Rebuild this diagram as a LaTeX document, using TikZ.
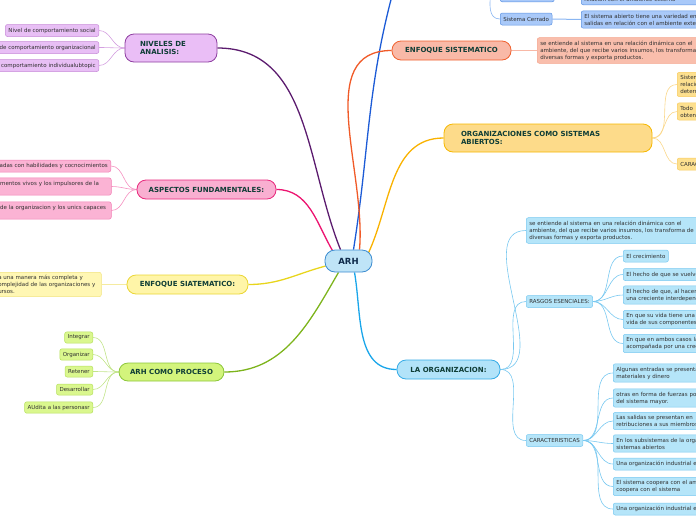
\documentclass[tikz,border=0pt]{standalone}
\usepackage{fontspec}
\setmainfont{DejaVu Sans}
\usetikzlibrary{backgrounds,calc}
\definecolor{arhfill}{HTML}{BFE4F7}\definecolor{arhdraw}{HTML}{3C8CD0}\definecolor{arhtxt}{HTML}{0E2A4A}
\definecolor{maintxt}{HTML}{0F3D36}\definecolor{subtxt}{HTML}{303030}
\definecolor{purline}{HTML}{5B1B6E}\definecolor{purfill}{HTML}{EABEF6}\definecolor{purdraw}{HTML}{8E3FA0}
\definecolor{purcfill}{HTML}{E8BFF5}\definecolor{purcdraw}{HTML}{C78AD8}\definecolor{purconn}{HTML}{D4A0E0}
\definecolor{pinkline}{HTML}{EC1470}\definecolor{pinkfill}{HTML}{F9AFD1}\definecolor{pinkdraw}{HTML}{E8287C}
\definecolor{pinkcfill}{HTML}{FBB3D4}\definecolor{pinkcdraw}{HTML}{F27EB4}\definecolor{pinkconn}{HTML}{F590C0}
\definecolor{yelline}{HTML}{E8D51C}\definecolor{yelfill}{HTML}{FFF5A8}\definecolor{yeldraw}{HTML}{EAD634}
\definecolor{yelcfill}{HTML}{FFF7B4}\definecolor{yelcdraw}{HTML}{F2E47E}\definecolor{yelconn}{HTML}{F5EBA0}
\definecolor{grnline}{HTML}{7DB41C}\definecolor{grnfill}{HTML}{D3F47C}\definecolor{grndraw}{HTML}{8CC63A}
\definecolor{grncfill}{HTML}{DAF78E}\definecolor{grncdraw}{HTML}{B5DF5E}\definecolor{grnconn}{HTML}{C2E48A}
\definecolor{bluline}{HTML}{1C5BD6}\definecolor{blucfill}{HTML}{A9C9F9}\definecolor{blucdraw}{HTML}{5C92E2}\definecolor{bluconn}{HTML}{8AB6F2}
\definecolor{redline}{HTML}{F05A28}\definecolor{redfill}{HTML}{F9B9A7}\definecolor{reddraw}{HTML}{F0602E}
\definecolor{redcfill}{HTML}{F9BEAC}\definecolor{redcdraw}{HTML}{F5A48C}\definecolor{redconn}{HTML}{F8B8A6}
\definecolor{orgline}{HTML}{F9B200}\definecolor{orgfill}{HTML}{FDDB8A}\definecolor{orgdraw}{HTML}{F6B700}
\definecolor{orgcfill}{HTML}{FDE08F}\definecolor{orgcdraw}{HTML}{F8CB5E}\definecolor{orgconn}{HTML}{FAD78A}
\definecolor{skyline}{HTML}{1AA6EA}\definecolor{skyfill}{HTML}{B2E3F9}\definecolor{skydraw}{HTML}{35ABE6}
\definecolor{skycfill}{HTML}{B5E5F9}\definecolor{skycdraw}{HTML}{78C8F0}\definecolor{skyconn}{HTML}{78C8F0}
\begin{document}
\begin{tikzpicture}[x=1pt,y=-1pt,
  mainbox/.style={draw, rounded corners=9pt, line width=0.8pt, font=\fontsize{7}{8.5}\selectfont\bfseries, text=maintxt, inner sep=0pt, align=left},
  sub/.style={draw, rounded corners=2pt, line width=0.5pt, font=\fontsize{5.5}{7}\selectfont, text=subtxt, inner xsep=3pt, inner ysep=3pt, minimum height=12pt},
  purc/.style={sub, fill=purcfill, draw=purcdraw},
  pinkc/.style={sub, fill=pinkcfill, draw=pinkcdraw},
  yelc/.style={sub, fill=yelcfill, draw=yelcdraw},
  grnc/.style={sub, fill=grncfill, draw=grncdraw, minimum height=11pt},
  bluc/.style={sub, fill=blucfill, draw=blucdraw},
  redc/.style={sub, fill=redcfill, draw=redcdraw},
  orgc/.style={sub, fill=orgcfill, draw=orgcdraw},
  skyc/.style={sub, fill=skycfill, draw=skycdraw},
  conn/.style={line width=1.3pt},
  subconn/.style={line width=0.6pt},
]
\useasboundingbox (0,0) rectangle (696,520);

% central
\node[mainbox, fill=arhfill, draw=arhdraw, minimum width=47pt, minimum height=22pt, rounded corners=10pt, font=\fontsize{8.5}{9}\selectfont\bfseries, text=arhtxt, align=center] (arh) at (348.5,261) {ARH};

% main nodes
\node[mainbox, fill=purfill, draw=purdraw, minimum width=92pt, minimum height=28pt, text width=62pt] (niv) at (171,48) {NIVELES DE\\ANALISIS:};
\node[mainbox, fill=pinkfill, draw=pinkdraw, minimum width=139pt, minimum height=19pt, align=center] (asp) at (206.5,189.5) {ASPECTOS FUNDAMENTALES:};
\node[mainbox, fill=yelfill, draw=yeldraw, minimum width=121pt, minimum height=19pt, align=center] (siat) at (187.5,284.5) {ENFOQUE SIATEMATICO:};
\node[mainbox, fill=grnfill, draw=grndraw, minimum width=105pt, minimum height=18pt, align=center] (proc) at (171.5,372) {ARH COMO PROCESO};
\node[mainbox, fill=redfill, draw=reddraw, minimum width=119pt, minimum height=19pt, align=center] (ens) at (451.5,50.5) {ENFOQUE SISTEMATICO};
\node[mainbox, fill=orgfill, draw=orgdraw, minimum width=208pt, minimum height=28pt, text width=174pt] (org) at (548,138) {ORGANIZACIONES COMO SISTEMAS\\ABIERTOS:};
\node[mainbox, fill=skyfill, draw=skydraw, minimum width=103pt, minimum height=19pt, align=center] (laorg) at (448.5,369.5) {LA ORGANIZACION:};
\coordinate (topoff) at (393,-8);
\coordinate (sisp) at (482,-40);

% purple children
\node[purc, anchor=east] (n1) at (99,30.5) {Nivel de comportamiento social};
\node[purc, anchor=east, text width=130pt, align=right] (n2) at (99,47.5) {de comportamiento organizacional};
\node[purc, anchor=east, text width=130pt, align=right] (n3) at (99,65.5) {comportamiento individualubtopic};

% pink children
\node[pinkc, anchor=east, text width=150pt, align=right] (a1) at (111,166) {tadas con habilidades y cocnocimientos};
\node[pinkc, anchor=west, text width=108pt, align=left] (a2) at (-3,186.5) {mentos vivos y los impulsores de la\\\mbox{}};
\node[pinkc, anchor=west, text width=108pt, align=left] (a3) at (-3,210.5) {de la organizacion y los unics capaces\\\mbox{}};

% yellow child
\node[yelc, anchor=west, text width=100pt, align=left] (e1) at (-5,284.5) {a una manera más completa y\\omplejidad de las organizaciones y\\ursos.};

% green children
\node[grnc, anchor=east] (g1) at (93,337.5) {Integrar};
\node[grnc, anchor=east] (g2) at (93,354.5) {Organizar};
\node[grnc, anchor=east] (g3) at (93,371.5) {Retener};
\node[grnc, anchor=east] (g4) at (93,389.5) {Desarrollar};
\node[grnc, anchor=east] (g5) at (93,407.5) {AUdita a las personasr};

% top blue
\node[bluc, anchor=south west, minimum width=54pt] (sab) at (500,2) {};
\node[bluc, anchor=south west, text width=150pt, align=left] (sabt) at (581,5) {\mbox{}\\relacion con el ambiente externo};
\node[bluc, anchor=west] (scerr) at (500,19) {Sistema Cerrado};
\node[bluc, anchor=west, text width=150pt, align=left] (scerrt) at (581,19.5) {El sistema abierto tiene una variedad en\\salidas en relación con el ambiente externo};

% red child
\node[redc, anchor=west, text width=180pt, align=left] (ens1) at (537,50.5) {se entiende al sistema en una relación dinámica con el\\ambiente, del que recibe varios insumos, los transforma de\\diversas formas y exporta productos.};

% orange children
\node[orgc, anchor=west, text width=60pt, align=left] (o1) at (677,84.5) {Sistema\\relaciona\\determina};
\node[orgc, anchor=west, text width=60pt, align=left] (o2) at (677,111.5) {Todo\\obtener};
\node[orgc, anchor=west, text width=60pt, align=left] (o3) at (677,164) {CARACTERISTICAS};

% sky children
\node[skyc, anchor=west, text width=180pt, align=left] (l1) at (526,230.5) {se entiende al sistema en una relación dinámica con el\\ambiente, del que recibe varios insumos, los transforma de\\diversas formas y exporta productos.};
\node[skyc, anchor=west] (rasgos) at (526,301.5) {RASGOS ESENCIALES:};
\node[skyc, anchor=west] (carac) at (526,440.5) {CARACTERISTICAS};

\node[skyc, anchor=west] (r1) at (623,256) {El crecimiento};
\node[skyc, anchor=west, text width=100pt, align=left] (r2) at (623,274.5) {El hecho de que se vuelve};
\node[skyc, anchor=west, text width=100pt, align=left] (r3) at (623,295) {El hecho de que, al hacerse\\una creciente interdependencia};
\node[skyc, anchor=west, text width=100pt, align=left] (r4) at (623,319.5) {En que su vida tiene una\\vida de sus componentes};
\node[skyc, anchor=west, text width=100pt, align=left] (r5) at (623,343.5) {En que en ambos casos la\\acompañada por una creciente};

\node[skyc, anchor=west, text width=110pt, align=left] (c1) at (613,373) {Algunas entradas se presentan\\materiales y dinero};
\node[skyc, anchor=west, text width=110pt, align=left] (c2) at (613,398) {otras en forma de fuerzas por\\del sistema mayor.};
\node[skyc, anchor=west, text width=110pt, align=left] (c3) at (613,421) {Las salidas se presentan en\\retribuciones a sus miembros};
\node[skyc, anchor=west, text width=110pt, align=left] (c4) at (613,443.5) {En los subsistemas de la organización\\sistemas abiertos};
\node[skyc, anchor=west, text width=110pt, align=left] (c5) at (613,464) {Una organización industrial es};
\node[skyc, anchor=west, text width=110pt, align=left] (c6) at (613,486.5) {El sistema coopera con el ambiente\\coopera con el sistema};
\node[skyc, anchor=west, text width=110pt, align=left] (c7) at (613,509) {Una organización industrial es};

\begin{scope}[on background layer]
% main connectors
\draw[conn, purline] ($(arh.north)+(-8,0)$) to[out=112,in=0] (niv.east);
\draw[conn, pinkline] ($(arh.north)+(-16,1)$) to[out=120,in=0] (asp.east);
\draw[conn, yelline] ($(arh.west)+(1,5)$) to[out=195,in=0] (siat.east);
\draw[conn, grnline] ($(arh.south)+(-10,0)$) to[out=240,in=0] (proc.east);
\draw[conn, skyline] ($(arh.south)+(6,0)$) to[out=-80,in=180] (laorg.west);
\draw[conn, bluline] ($(arh.north)+(5,0)$) to[out=81,in=255] (topoff);
\draw[conn, redline] ($(arh.north)+(11,0)$) to[out=85,in=180] (ens.west);
\draw[conn, orgline] ($(arh.east)+(-4,-8)$) to[out=65,in=180] (org.west);
% sub connectors
\foreach \c in {n1,n2,n3} \draw[subconn, purconn] (niv.west) to[out=180,in=0] (\c.east);
\foreach \c in {a1,a2,a3} \draw[subconn, pinkconn] (asp.west) to[out=180,in=0] (\c.east);
\draw[subconn, yelconn, line width=1pt] (siat.west) -- (e1.east);
\foreach \c in {g1,g2,g3,g4,g5} \draw[subconn, grnconn] (proc.west) to[out=180,in=0] (\c.east);
\draw[subconn, bluconn] (sisp) to[out=0,in=180] (scerr.west);
\draw[subconn, bluconn] (sisp) to[out=0,in=180] (sab.west);
\draw[subconn, bluconn, line width=1pt] (scerr.east) -- (scerrt.west);
\draw[subconn, bluconn, line width=1pt] (sab.east) -- (sabt.west);
\draw[subconn, redconn, line width=1pt] (ens.east) -- (ens1.west);
\foreach \c in {o1,o2,o3} \draw[subconn, orgconn] (org.east) to[out=0,in=180] (\c.west);
\foreach \c in {l1,rasgos,carac} \draw[subconn, skyconn] (laorg.east) to[out=0,in=180] (\c.west);
\foreach \c in {r1,r2,r3,r4,r5} \draw[subconn, skyconn] (rasgos.east) to[out=0,in=180] (\c.west);
\foreach \c in {c1,c2,c3,c4,c5,c6,c7} \draw[subconn, skyconn] (carac.east) to[out=0,in=180] (\c.west);
\end{scope}
\end{tikzpicture}
\end{document}
